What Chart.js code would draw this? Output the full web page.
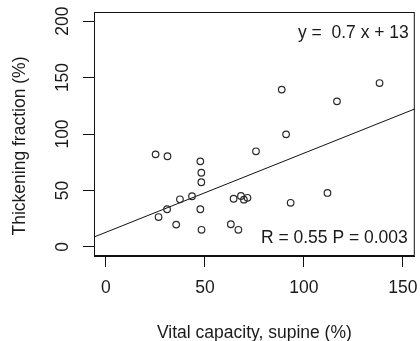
<!DOCTYPE html>
<html>
<head>
<meta charset="utf-8">
<script src="https://cdn.jsdelivr.net/npm/chart.js@4/dist/chart.umd.min.js"></script>
<style>
  body { margin: 0; background: #fff; }
  #wrap { width: 420px; height: 341px; }
</style>
</head>
<body>
<div id="wrap"><canvas id="scatterChart" width="420" height="341"></canvas></div>
<script>
// vital capacity (supine) vs thickening fraction, one entry per patient
var vitalCapacity = [25.1, 31.1, 47.7, 48.2, 48.2, 37.4, 43.5, 30.9, 26.6, 47.7, 35.5, 48.3,
  75.8, 64.5, 68.2, 69.7, 71.5, 93.3, 63.1, 66.9, 111.9, 88.8, 116.7, 138.2, 91.0];
var thickening = [82.0, 80.3, 75.8, 65.7, 57.3, 42.2, 44.9, 33.4, 26.5, 33.4, 19.8, 15.2,
  84.7, 42.7, 45.1, 41.9, 43.5, 39.1, 20.1, 15.2, 47.8, 139.3, 128.9, 145.1, 99.7];

// fitted line, as printed on the plot
var slope = 0.7;
var intercept = 13;
var fitText = 'y =  0.7 x + 13';
var statText = 'R = 0.55 P = 0.003';

// axis ranges, ticks and titles
var xRange = [-6, 156];
var yRange = [-8, 208];
var xTicks = [0, 50, 100, 150];
var yTicks = [0, 50, 100, 150, 200];
var xTitle = 'Vital capacity, supine (%)';
var yTitle = 'Thickening fraction (%)';

var fontFamily = '"Liberation Sans", Arial, sans-serif';
Chart.defaults.font.family = fontFamily;
Chart.defaults.font.size = 17.5;
Chart.defaults.color = '#1a1a1a';

var points = vitalCapacity.map(function(x, i) {
  return { x: x, y: thickening[i] };
});
var fitLine = xRange.map(function(x) {
  return { x: x, y: slope * x + intercept };
});

// box around the plot, y title and the two text notes
var boxAndNotes = {
  id: 'boxAndNotes',
  afterDraw: function(chart) {
    var ctx = chart.ctx;
    var a = chart.chartArea;
    ctx.save();
    ctx.strokeStyle = '#111';
    ctx.lineWidth = 1;
    ctx.strokeRect(a.left + 0.5, a.top + 0.5, a.right - a.left - 1, a.bottom - a.top - 1);
    ctx.fillStyle = '#1a1a1a';
    ctx.font = '17.5px ' + fontFamily;
    ctx.textAlign = 'right';
    ctx.textBaseline = 'middle';
    ctx.fillText(fitText, a.right - 6, a.top + 21);
    ctx.fillText(statText, a.right - 7, a.bottom - 18);
    // y title sits a little below the middle of the plot
    ctx.translate(20, (a.top + a.bottom) / 2 + 12);
    ctx.rotate(-Math.PI / 2);
    ctx.textAlign = 'center';
    ctx.fillText(yTitle, 0, 0);
    ctx.restore();
  }
};

var ctx = document.getElementById('scatterChart').getContext('2d');
var chart = new Chart(ctx, {
  type: 'scatter',
  data: {
    datasets: [{
      data: points,
      pointStyle: 'circle',
      pointRadius: 3.3,
      pointBorderWidth: 1.2,
      pointBorderColor: '#2a2a2a',
      pointBackgroundColor: 'rgba(0,0,0,0)'
    }, {
      type: 'line',
      data: fitLine,
      borderColor: '#111',
      borderWidth: 1,
      pointRadius: 0,
      fill: false
    }]
  },
  plugins: [boxAndNotes],
  options: {
    responsive: false,
    animation: false,
    layout: { padding: { top: 12, right: 5, left: 0, bottom: 0 } },
    plugins: {
      legend: { display: false },
      tooltip: { enabled: false }
    },
    scales: {
      x: {
        type: 'linear',
        min: xRange[0],
        max: xRange[1],
        afterBuildTicks: function(s) {
          s.ticks = xTicks.map(function(v) { return { value: v }; });
        },
        afterFit: function(s) {
          s.height = 85;
          s.paddingLeft = 0;
          s.paddingRight = 0;
        },
        grid: { drawOnChartArea: false, drawTicks: true, tickLength: 11, color: '#111' },
        border: { display: true, color: '#111' },
        ticks: { padding: 10.5, maxRotation: 0 },
        title: {
          display: true,
          text: xTitle,
          font: { size: 17.5, lineHeight: 1 },
          padding: { top: 0, bottom: -1 }
        }
      },
      y: {
        type: 'linear',
        min: yRange[0],
        max: yRange[1],
        afterBuildTicks: function(s) {
          s.ticks = yTicks.map(function(v) { return { value: v }; });
        },
        afterFit: function(s) {
          s.width = 94;
          s.paddingTop = 0;
          s.paddingBottom = 0;
        },
        grid: { drawOnChartArea: false, drawTicks: true, tickLength: 11, color: '#111' },
        border: { display: true, color: '#111' },
        ticks: { padding: 5.5, minRotation: 90, maxRotation: 90, crossAlign: 'center' },
        title: { display: false }
      }
    }
  }
});
</script>
</body>
</html>
